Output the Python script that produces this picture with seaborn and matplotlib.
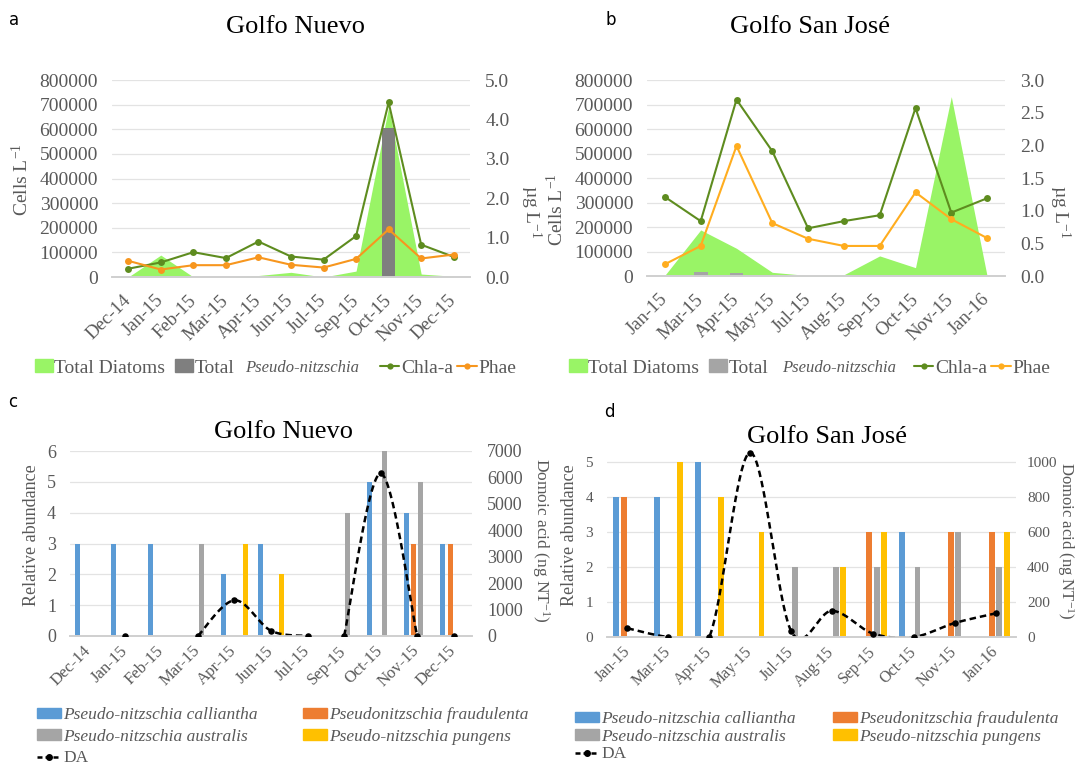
import numpy as np
import pandas as pd
import matplotlib
matplotlib.use("Agg")
import matplotlib.pyplot as plt
import seaborn as sns
from matplotlib.patches import Patch
from matplotlib.lines import Line2D

# ---- data: panels a / b (cells and pigments) ----
months_a = ["Dec-14", "Jan-15", "Feb-15", "Mar-15", "Apr-15", "Jun-15",
            "Jul-15", "Sep-15", "Oct-15", "Nov-15", "Dec-15"]
diatoms_a = [0, 89000, 0, 0, 6000, 19000, 0, 24000, 690000, 12000, 3000]
pn_total_a = [0, 3000, 0, 0, 0, 0, 0, 2000, 605000, 0, 0]
chla_a = [0.21, 0.37, 0.63, 0.48, 0.90, 0.52, 0.44, 1.04, 4.43, 0.82, 0.51]
phae_a = [0.41, 0.19, 0.30, 0.30, 0.50, 0.31, 0.24, 0.46, 1.21, 0.47, 0.57]

months_b = ["Jan-15", "Mar-15", "Apr-15", "May-15", "Jul-15", "Aug-15",
            "Sep-15", "Oct-15", "Nov-15", "Jan-16"]
diatoms_b = [3000, 188000, 113000, 15000, 2000, 5000, 82000, 34000, 732000, 0]
pn_total_b = [0, 17000, 11000, 0, 0, 0, 0, 0, 0, 0]
chla_b = [1.21, 0.84, 2.70, 1.91, 0.73, 0.84, 0.93, 2.57, 0.97, 1.19]
phae_b = [0.18, 0.46, 1.99, 0.81, 0.57, 0.46, 0.46, 1.28, 0.87, 0.58]

# ---- data: panels c / d (relative abundance and domoic acid) ----
species = ["Pseudo-nitzschia calliantha", "Pseudonitzschia fraudulenta",
           "Pseudo-nitzschia australis", "Pseudo-nitzschia pungens"]
species_colors = ["#5b9bd5", "#ed7d31", "#a5a5a5", "#ffc000"]

calliantha_c = [3, 3, 3, 0, 2, 3, 0, 0, 5, 4, 3]
fraudulenta_c = [0, 0, 0, 0, 0, 0, 0, 0, 0, 3, 3]
australis_c = [0, 0, 0, 3, 0, 0, 0, 4, 6, 5, 0]
pungens_c = [0, 0, 0, 0, 3, 2, 0, 0, 0, 0, 0]
da_c = [np.nan, 0, np.nan, 0, 1350, 200, 0, 0, 6150, 0, 0]
da_c_segments = [[1], [3, 4, 5, 6], [7, 8, 9], [10]]

calliantha_d = [4, 4, 5, 0, 0, 0, 0, 3, 0, 0]
fraudulenta_d = [4, 0, 0, 0, 0, 0, 3, 0, 3, 3]
australis_d = [0, 0, 0, 0, 2, 2, 2, 2, 3, 2]
pungens_d = [0, 5, 4, 3, 0, 2, 3, 0, 0, 3]
da_d = [50, 0, 0, 1055, 35, 150, 20, 0, 80, 135]
da_d_segments = [list(range(10))]

W, H = 1075, 771
GRAY = "#595959"
GRID = "#e3e3e3"
GREEN_AREA = "#99f466"
CHLA = "#5e8c1f"
SERIF = "Liberation Serif"

sns.set_theme(style="white")
plt.rcParams["font.family"] = "serif"
plt.rcParams["font.serif"] = [SERIF, "DejaVu Serif"]
plt.rcParams["mathtext.fontset"] = "custom"
plt.rcParams["mathtext.rm"] = SERIF
plt.rcParams["mathtext.it"] = SERIF + ":italic"

fig = plt.figure(figsize=(W / 100, H / 100), dpi=100)


def px_axes(l, t, r, b):
    return fig.add_axes([l / W, 1 - b / H, (r - l) / W, (b - t) / H])


def ftext(x, y, s, **kw):
    fig.text(x / W, 1 - y / H, s, family=SERIF, **kw)


def style_axes(ax, ax2, labels, fs, yfs, xpad, rpad, minor=True):
    n = len(labels)
    ax.set_xlim(-0.5, n - 0.5)
    ax.set_xticks(range(n))
    ax.set_xticklabels(labels, rotation=45, ha="right", va="center",
                       rotation_mode="anchor", fontsize=fs, color=GRAY, family=SERIF)
    ax.tick_params(axis="x", which="major", length=0, pad=xpad)
    if minor:
        ax.set_xticks(np.arange(n + 1) - 0.5, minor=True)
        ax.tick_params(axis="x", which="minor", length=4, width=0.8, color="#d0d0d0")
    ax.tick_params(axis="y", length=0, pad=10, labelsize=yfs, labelcolor=GRAY)
    ax2.tick_params(axis="y", length=0, pad=rpad, labelsize=yfs, labelcolor=GRAY)
    for t in ax.get_yticklabels() + ax2.get_yticklabels():
        t.set_family(SERIF)
    ax.grid(axis="y", color=GRID, linewidth=0.9)
    ax.grid(axis="x", visible=False)
    ax2.grid(False)
    ax.set_axisbelow(True)
    for a in (ax, ax2):
        for side in ("top", "left", "right"):
            a.spines[side].set_visible(False)
        a.spines["bottom"].set_color("#d0d0d0")
        a.set_xlabel("")
        a.set_ylabel("")


def smooth_path(xs, ys, steps=40):
    # Excel-like smoothed line (Catmull-Rom as cubic Bezier)
    xs, ys = np.asarray(xs, float), np.asarray(ys, float)
    n = len(xs)
    if n == 1:
        return xs, ys
    t = np.linspace(0, 1, steps)
    px, py = [], []
    for i in range(n - 1):
        i0, i3 = max(i - 1, 0), min(i + 2, n - 1)
        c1x = xs[i] + (xs[i + 1] - xs[i0]) / 6
        c1y = ys[i] + (ys[i + 1] - ys[i0]) / 6
        c2x = xs[i + 1] - (xs[i3] - xs[i]) / 6
        c2y = ys[i + 1] - (ys[i3] - ys[i]) / 6
        b0, b1, b2, b3 = (1 - t) ** 3, 3 * (1 - t) ** 2 * t, 3 * (1 - t) * t ** 2, t ** 3
        px.append(b0 * xs[i] + b1 * c1x + b2 * c2x + b3 * xs[i + 1])
        py.append(b0 * ys[i] + b1 * c1y + b2 * c2y + b3 * ys[i + 1])
    return np.concatenate(px), np.concatenate(py)


def cells_panel(ax, months, diatoms, pn_total, chla, phae, pn_color, phae_color, rmax, rstep):
    x = np.arange(len(months))
    sns.barplot(x=months, y=pn_total, color=pn_color, width=0.38, linewidth=0,
                saturation=1, ax=ax)
    for p in ax.patches:
        p.set_zorder(2)
    ax.fill_between(x, diatoms, 0, color=GREEN_AREA, linewidth=0, zorder=1)
    ax.set_ylim(0, 800000)
    ax.set_yticks(np.arange(0, 800001, 100000))
    ax.set_yticklabels([f"{v:d}" for v in range(0, 800001, 100000)])
    ax2 = ax.twinx()
    sns.lineplot(x=x, y=chla, ax=ax2, color=CHLA, linewidth=1.5, marker="o",
                 markersize=5, markeredgewidth=0)
    sns.lineplot(x=x, y=phae, ax=ax2, color=phae_color, linewidth=1.5, marker="o",
                 markersize=5, markeredgewidth=0)
    ax2.set_ylim(0, rmax)
    ticks = np.arange(0, rmax + 1e-9, rstep)
    ax2.set_yticks(ticks)
    ax2.set_yticklabels([f"{v:.1f}" for v in ticks])
    style_axes(ax, ax2, months, 13.5, 14, 15, 11)
    return ax2


def species_panel(ax, months, cols, da, segs, lmax, ltop, rmax, rstep, rtop,
                  width, gap, fs, yfs, rpad):
    n = len(months)
    df = pd.DataFrame({
        "month": months * 4,
        "species": sum([[s] * n for s in species], []),
        "value": sum([list(c) for c in cols], []),
    })
    sns.barplot(data=df, x="month", y="value", hue="species", hue_order=species,
                palette=species_colors, width=width, gap=gap, linewidth=0,
                saturation=1, errorbar=None, legend=False, ax=ax)
    ax.set_ylim(0, ltop)
    ax.set_yticks(range(0, lmax + 1))
    ax2 = ax.twinx()
    for seg in segs:
        sx, sy = smooth_path(seg, [da[i] for i in seg])
        ax2.plot(sx, sy, color="black", linewidth=1.8, linestyle=(0, (2.6, 1.6)))
    xs = np.arange(n)
    vals = np.asarray(da, float)
    ok = ~np.isnan(vals)
    sns.scatterplot(x=xs[ok], y=vals[ok], color="black", s=22,
                    linewidth=0, ax=ax2, zorder=5)
    ax2.set_ylim(0, rtop)
    ax2.set_yticks(np.arange(0, rmax + 1, rstep))
    style_axes(ax, ax2, months, fs, yfs, 9, rpad, minor=False)
    return ax2


# ---- panel a ----
ax_a = px_axes(112, 80, 470, 277)
cells_panel(ax_a, months_a, diatoms_a, pn_total_a, chla_a, phae_a,
            "#7f7f7f", "#f7961e", 5.0, 1.0)

# ---- panel b ----
ax_b = px_axes(647, 80, 1005, 276)
cells_panel(ax_b, months_b, diatoms_b, pn_total_b, chla_b, phae_b,
            "#a5a5a5", "#ffad1f", 3.0, 0.5)

# ---- panel c ----
ax_c = px_axes(70, 451, 472, 636)
species_panel(ax_c, months_a, [calliantha_c, fraudulenta_c, australis_c, pungens_c],
              da_c, da_c_segments, 6, 6, 7000, 1000, 7000, 0.8, 0.32, 12, 13, 11)

# ---- panel d ----
ax_d = px_axes(607, 450, 1016, 637)
species_panel(ax_d, months_b, [calliantha_d, fraudulenta_d, australis_d, pungens_d],
              da_d, da_d_segments, 5, 5.35, 1000, 200, 1070, 0.74, 0.22, 11.5, 11, 8)

# ---- titles, panel letters, axis labels ----
for x, y, s in [(295, 27, "Golfo Nuevo"), (810, 27, "Golfo San José"),
                (283, 432, "Golfo Nuevo"), (827, 437, "Golfo San José")]:
    ftext(x, y, s, ha="center", va="center", fontsize=19, color="black")
for x, y, s in [(14, 20, "a"), (611, 20, "b"), (13, 402, "c"), (609, 412, "d")]:
    fig.text(x / W, 1 - y / H, s, ha="center", va="center", fontsize=12,
             color="black", family="DejaVu Sans")

ftext(22, 180, "Cells L$^{-1}$", rotation=90, ha="center", va="center", fontsize=14, color=GRAY)
ftext(557, 210, "Cells L$^{-1}$", rotation=90, ha="center", va="center", fontsize=14, color=GRAY)
ftext(531, 212, "µg L$^{-1}$", rotation=-90, ha="center", va="center", fontsize=14, color=GRAY)
ftext(1060, 212, "µg L$^{-1}$", rotation=-90, ha="center", va="center", fontsize=14, color=GRAY)
ftext(32, 535, "Relative abundance", rotation=90, ha="center", va="center", fontsize=13, color=GRAY)
ftext(569, 535, "Relative abundance", rotation=90, ha="center", va="center", fontsize=13, color=GRAY)
ftext(541, 540, "Domoic acid (ng NT$^{-1}$)", rotation=-90, ha="center", va="center",
      fontsize=12.5, color=GRAY)
ftext(1066, 541, "Domoic acid (ng NT$^{-1}$)", rotation=-90, ha="center", va="center",
      fontsize=12, color=GRAY)


# ---- legends ----
def cells_legend(x0, x_it, x_lines, y, pn_color, phae_color):
    leg1 = fig.legend([Patch(color=GREEN_AREA), Patch(color=pn_color)],
                      ["Total Diatoms", "Total"], loc="center left",
                      bbox_to_anchor=(x0 / W, 1 - y / H), ncol=2, frameon=False,
                      prop={"family": SERIF, "size": 14}, handlelength=0.9,
                      handleheight=0.6, handletextpad=0.1, columnspacing=0.5,
                      borderpad=0, borderaxespad=0)
    ftext(x_it, y, "Pseudo-nitzschia", ha="left", va="center", fontsize=12,
          fontstyle="italic", color=GRAY)
    leg2 = fig.legend([Line2D([], [], color=CHLA, lw=1.5, marker="o", ms=4.5, mew=0),
                       Line2D([], [], color=phae_color, lw=1.5, marker="o", ms=4.5, mew=0)],
                      ["Chla-a", "Phae"], loc="center left",
                      bbox_to_anchor=(x_lines / W, 1 - y / H), ncol=2, frameon=False,
                      prop={"family": SERIF, "size": 14}, handlelength=1.0,
                      handletextpad=0.1, columnspacing=0.2, borderpad=0, borderaxespad=0)
    for leg in (leg1, leg2):
        for t in leg.get_texts():
            t.set_color(GRAY)


cells_legend(35, 245, 380, 368, "#7f7f7f", "#f7961e")
cells_legend(569, 782, 914, 368, "#a5a5a5", "#ffad1f")


def species_legend(x, y, spacing, colsp):
    handles = [Patch(color=species_colors[0]), Patch(color=species_colors[2]),
               Line2D([], [], color="black", lw=1.8, ls=(0, (2.0, 1.2)), marker="o", ms=4),
               Patch(color=species_colors[1]), Patch(color=species_colors[3])]
    labels = [species[0], species[2], "DA", species[1], species[3]]
    leg = fig.legend(handles, labels, loc="upper left", bbox_to_anchor=(x / W, 1 - y / H),
                     ncol=2, frameon=False, prop={"family": SERIF, "size": 12.5},
                     handlelength=1.4, handleheight=0.55, handletextpad=0.1,
                     columnspacing=colsp, labelspacing=spacing, borderpad=0,
                     borderaxespad=0)
    for t, lab in zip(leg.get_texts(), labels):
        t.set_color(GRAY)
        if lab != "DA":
            t.set_fontstyle("italic")


species_legend(37, 707, 0.33, 2.6)
species_legend(575, 711, 0.1, 2.15)

fig.savefig("out.png", dpi=100, facecolor="white")
